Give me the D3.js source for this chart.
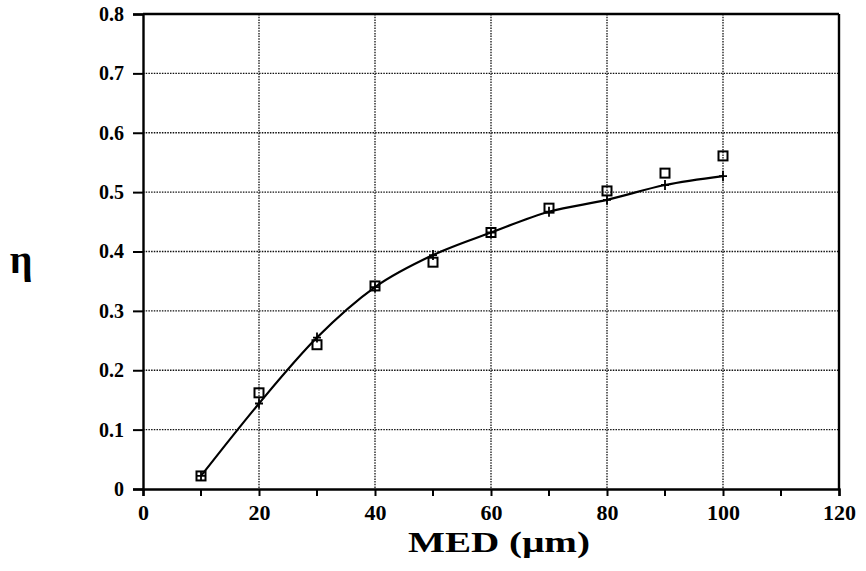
<!DOCTYPE html>
<html>
<head>
<meta charset="utf-8">
<script src="https://cdn.jsdelivr.net/npm/d3@7"></script>
<style>
  body { margin: 0; background: #fff; }
  svg { display: block; }
</style>
</head>
<body>
<script>
// Data
const med = [10, 20, 30, 40, 50, 60, 70, 80, 90, 100];
const etaMeasured = [0.022, 0.162, 0.243, 0.342, 0.382, 0.432, 0.473, 0.502, 0.532, 0.561];
const etaModel = [0.022, 0.144, 0.255, 0.340, 0.394, 0.432, 0.467, 0.487, 0.512, 0.527];
const xTicks = [0, 20, 40, 60, 80, 100, 120];
const xMinorTicks = [10, 30, 50, 70, 90, 110];
const yTicks = [0, 0.1, 0.2, 0.3, 0.4, 0.5, 0.6, 0.7, 0.8];

const W = 866, H = 571;
const margin = { top: 14, right: 27, bottom: 82, left: 143 },
      width = W - margin.left - margin.right,
      height = H - margin.top - margin.bottom;

const svg = d3.select("body")
  .append("svg")
    .attr("width", W)
    .attr("height", H);

const g = svg.append("g")
    .attr("transform", `translate(${margin.left},${margin.top})`);

const x = d3.scaleLinear().domain([0, 120]).range([0, width]);
const y = d3.scaleLinear().domain([0, 0.8]).range([height, 0]);

const serif = "'Liberation Serif', 'Times New Roman', serif";

// Grid lines (dotted)
g.append("g")
  .selectAll("line")
  .data(yTicks.filter(d => d > 0 && d < 0.8))
  .join("line")
    .attr("x1", 0).attr("x2", width)
    .attr("y1", d => y(d)).attr("y2", d => y(d))
    .attr("stroke", "#111")
    .attr("stroke-width", 1.3)
    .attr("stroke-dasharray", "1.5,1.2");

g.append("g")
  .selectAll("line")
  .data(xTicks.filter(d => d > 0 && d < 120))
  .join("line")
    .attr("x1", d => x(d)).attr("x2", d => x(d))
    .attr("y1", 0).attr("y2", height)
    .attr("stroke", "#111")
    .attr("stroke-width", 1.3)
    .attr("stroke-dasharray", "1.5,1.2");

// Axes
const xAxis = g.append("g")
    .attr("transform", `translate(0,${height})`)
    .call(d3.axisBottom(x).tickValues(xTicks).tickFormat(d3.format("d"))
      .tickSize(7).tickPadding(8));
xAxis.append("g")
  .selectAll("line")
  .data(xMinorTicks)
  .join("line")
    .attr("x1", d => x(d)).attr("x2", d => x(d))
    .attr("y1", 0).attr("y2", 7)
    .attr("stroke", "#000")
    .attr("stroke-width", 2);

const yAxis = g.append("g")
    .call(d3.axisLeft(y).tickValues(yTicks).tickFormat(d => d === 0 ? "0" : d3.format(".1f")(d))
      .tickSize(10).tickPadding(9));

[xAxis, yAxis].forEach(a => {
  a.select(".domain").attr("stroke", "#000").attr("stroke-width", 2.4);
  a.selectAll(".tick line").attr("stroke", "#000").attr("stroke-width", 2);
  a.selectAll(".tick text")
    .attr("fill", "#000")
    .style("font-family", serif)
    .style("font-weight", "bold");
});
xAxis.selectAll(".tick text").style("font-size", "22px");
yAxis.selectAll(".tick text").style("font-size", "20px");

// Top and right frame
g.append("line")
  .attr("x1", 0).attr("x2", width).attr("y1", 0).attr("y2", 0)
  .attr("stroke", "#000").attr("stroke-width", 2.4);
g.append("line")
  .attr("x1", width).attr("x2", width).attr("y1", 0).attr("y2", height)
  .attr("stroke", "#000").attr("stroke-width", 2.4);

// Model curve
const modelData = med.map((m, i) => ({ m, v: etaModel[i] }));
const line = d3.line()
  .x(d => x(d.m))
  .y(d => y(d.v))
  .curve(d3.curveMonotoneX);

g.append("path")
  .datum(modelData)
  .attr("fill", "none")
  .attr("stroke", "#000")
  .attr("stroke-width", 2.2)
  .attr("d", line);

// Plus markers on the curve
g.append("g")
  .selectAll("path")
  .data(modelData)
  .join("path")
    .attr("transform", d => `translate(${x(d.m)},${y(d.v)})`)
    .attr("d", "M-4,0H4M0,-5V5")
    .attr("stroke", "#000")
    .attr("stroke-width", 1.8);

// Measured points (open squares)
const measData = med.map((m, i) => ({ m, v: etaMeasured[i] }));
g.append("g")
  .selectAll("rect")
  .data(measData)
  .join("rect")
    .attr("x", d => x(d.m) - 4.5)
    .attr("y", d => y(d.v) - 4.5)
    .attr("width", 9)
    .attr("height", 9)
    .attr("fill", "none")
    .attr("stroke", "#000")
    .attr("stroke-width", 2);

// Axis titles
svg.append("text")
  .attr("x", 499)
  .attr("y", 552)
  .attr("text-anchor", "middle")
  .attr("textLength", 182)
  .attr("lengthAdjust", "spacingAndGlyphs")
  .style("font-family", serif)
  .style("font-weight", "bold")
  .style("font-size", "30px")
  .text("MED (μm)");

svg.append("text")
  .attr("x", 21)
  .attr("y", 273)
  .attr("text-anchor", "middle")
  .style("font-family", serif)
  .style("font-weight", "bold")
  .style("font-size", "40px")
  .text("η");
</script>
</body>
</html>
